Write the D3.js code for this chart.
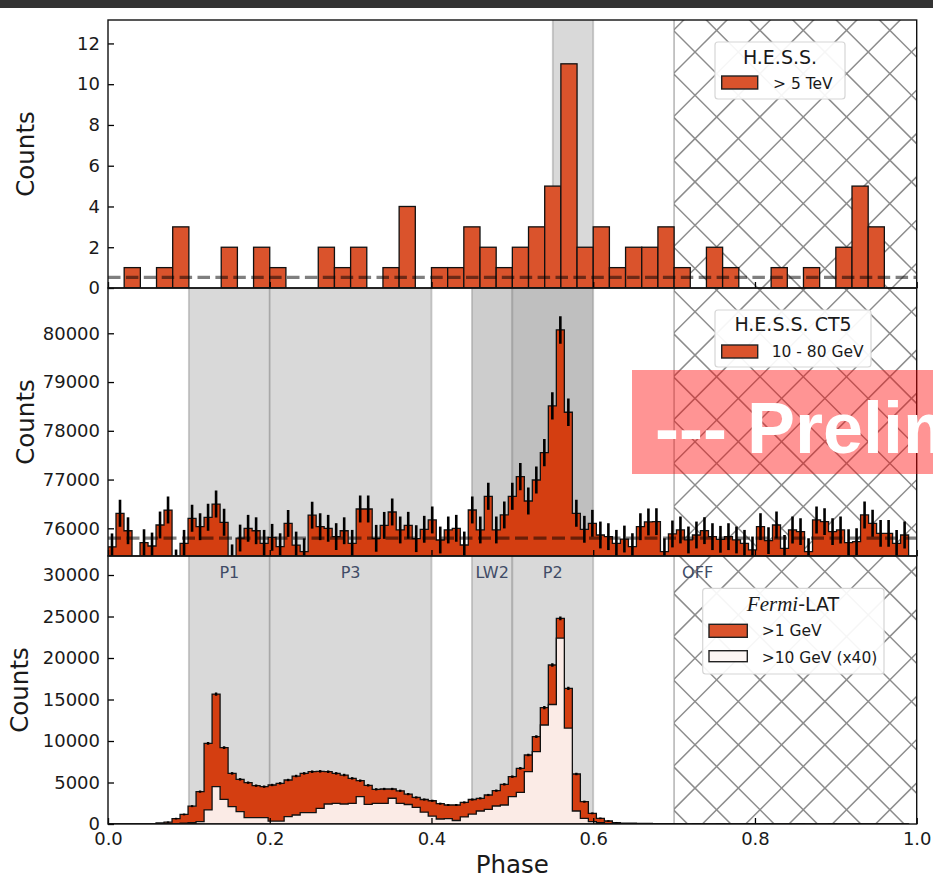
<!DOCTYPE html>
<html>
<head>
<meta charset="utf-8">
<script src="https://cdn.jsdelivr.net/npm/d3@7"></script>
<style>
  html, body { margin: 0; padding: 0; background: #fff; }
  svg { display: block; }
</style>
</head>
<body>
<svg id="chart" width="933" height="882" font-family="DejaVu Sans, sans-serif"></svg>
<script>
// ---- Phaseogram data -------------------------------------------------------
// H.E.S.S. > 5 TeV, 50 bins of 0.02 in phase
const hessCounts = [0,1,0,1,3,0,0,2,0,2, 1,0,0,2,1,2,0,1,4,0,
                    1,1,3,2,1,2,3,5,11,2, 3,1,2,2,3,1,0,2,1,0,
                    0,1,0,1,0,2,5,3,0,0];
const hessBinWidth = 0.02;
const hessBackground = 0.52;

// H.E.S.S. CT5 10 - 80 GeV, 100 bins of 0.0099 in phase
const ct5Counts = [75620,76307,75950,75150,75705,75637,76068,76375,75290,75692,
                   76205,76033,76226,76498,76123,75395,75800,76000,75950,75692,
                   75815,75623,76100,75657,75520,76270,76033,76000,75830,75950,
                   75692,76396,76396,75795,76060,76335,75966,76062,75788,75980,
                   76171,75760,75966,76000,75658,76376,75966,76656,75966,76274,
                   76656,77060,76560,76991,77552,78510,80069,78380,76308,75980,
                   76103,75863,75829,75692,75780,75624,76033,76130,76137,75520,
                   75884,75966,75761,75863,75952,75829,75774,75829,75761,75692,
                   75556,76034,75747,76068,75590,75966,75932,75521,76171,76137,
                   75932,75966,75706,75726,76274,76103,75897,75897,75692,75863];
const ct5Background = 75800;

// Fermi-LAT, same binning as CT5
const fermiAbove1GeV = [0,0,0,0,0,0,120,220,650,1150,
                        2150,3900,9720,15660,9200,6100,5380,4980,4620,4500,
                        4700,4900,5300,5780,6100,6300,6345,6300,6100,5900,
                        5500,5220,4660,4180,4220,4220,4000,3600,3200,2950,
                        2800,2450,2290,2290,2600,2950,3090,3494,4016,4779,
                        5703,6707,8313,10522,14016,19156,24779,16345,6024,2690,
                        1285,683,361,160,100,90,80,70,40,30,
                        30,30,20,30,20,20,30,20,20,30,
                        20,20,30,20,20,20,30,20,20,20,
                        30,20,20,30,20,20,20,20,20,20];
const fermiAbove10GeVx40 = [0,0,0,0,0,0,0,0,0,100,
                            160,280,1690,4500,2970,2090,1490,760,760,760,
                            350,350,880,1085,1365,1365,1890,2410,2490,2410,
                            2490,3290,2370,2490,2490,3100,2490,2350,2000,1420,
                            950,600,650,420,850,1200,1566,1767,2169,2289,
                            3293,3815,6305,8715,11928,14400,22400,11560,1566,683,
                            281,160,0,0,0,0,0,0,0,0,
                            0,0,0,0,0,0,0,0,0,0,
                            0,0,0,0,0,0,0,0,0,0,
                            0,0,0,0,0,0,0,0,0,0];
const lowEnergyBinWidth = 0.0099;

// Phase windows
const regionNames  = ["P1", "P3", "LW2", "P2"];
const regionStarts = [0.10, 0.20, 0.45, 0.50];
const regionEnds   = [0.20, 0.40, 0.50, 0.60];
const offStart = 0.7, offEnd = 1.0;
const hessWindow = [0.55, 0.60];

// Ticks
const phaseTicks = [0, 0.2, 0.4, 0.6, 0.8, 1.0];
const hessTicks  = [0, 2, 4, 6, 8, 10, 12];
const ct5Ticks   = [76000, 77000, 78000, 79000, 80000];
const fermiTicks = [0, 5000, 10000, 15000, 20000, 25000, 30000];

// ---- Layout ----------------------------------------------------------------
const svg = d3.select("#chart");
const left = 108, right = 916.7;
const panels = [
  { id: "hess",  top: 20,  bottom: 288 },
  { id: "ct5",   top: 288, bottom: 556 },
  { id: "fermi", top: 556, bottom: 824 }
];

const x = d3.scaleLinear().domain([0, 1]).range([left, right]);
const yHess  = d3.scaleLinear().domain([0, 13.15]).range([288, 20]);
const yCt5   = d3.scaleLinear().domain([75432, 80929]).range([556, 288]);
const yFermi = d3.scaleLinear().domain([0, 32290]).range([824, 556]);

const ORANGE = "#d43e11", BAR = "#da532c", PINK = "#fbebe6";
const TEXT = "#1a1a1a";

// window bar across the top of the page
svg.append("rect").attr("x", 0).attr("y", 0).attr("width", 933).attr("height", 8).attr("fill", "#333");

const defs = svg.append("defs");
panels.forEach(p => {
  defs.append("clipPath").attr("id", "clip-" + p.id)
    .append("rect").attr("x", left).attr("y", p.top)
    .attr("width", right - left).attr("height", p.bottom - p.top);
});
defs.append("clipPath").attr("id", "clip-off")
  .append("rect").attr("x", x(offStart)).attr("y", 20)
  .attr("width", x(offEnd) - x(offStart)).attr("height", 804);

// ---- Shaded phase windows ----------------------------------------------------
function windowBand(g, p, a, b, fill) {
  g.append("rect").attr("x", x(a)).attr("y", p.top)
    .attr("width", x(b) - x(a)).attr("height", p.bottom - p.top).attr("fill", fill);
  [a, b].forEach(v => g.append("line")
    .attr("x1", x(v)).attr("x2", x(v)).attr("y1", p.top).attr("y2", p.bottom)
    .attr("stroke", "#808080").attr("stroke-opacity", 0.4).attr("stroke-width", 1.8));
}
const bands = svg.append("g");
windowBand(bands, panels[0], hessWindow[0], hessWindow[1], "#d9d9d9");
const ct5Fills = ["#d9d9d9", "#d9d9d9", "#cdcdcd", "#bfbfbf"];
regionNames.forEach((n, i) => windowBand(bands, panels[1], regionStarts[i], regionEnds[i], ct5Fills[i]));
regionNames.forEach((n, i) => windowBand(bands, panels[2], regionStarts[i], regionEnds[i], "#d9d9d9"));

// ---- OFF region cross hatch --------------------------------------------------
const hatch = svg.append("g").attr("clip-path", "url(#clip-off)");
const s = 43.3, c0 = 210 % s, d0 = 1180 % s;
for (let k = -30; k < 40; k++) {
  const c = c0 + k * s, d = d0 + k * s;
  hatch.append("line").attr("x1", c).attr("y1", 0).attr("x2", c + 900).attr("y2", 900)
    .attr("stroke", "#8c8c8c").attr("stroke-width", 1.5);
  hatch.append("line").attr("x1", d).attr("y1", 0).attr("x2", d - 900).attr("y2", 900)
    .attr("stroke", "#8c8c8c").attr("stroke-width", 1.5);
}
svg.append("line").attr("x1", x(offStart)).attr("x2", x(offStart)).attr("y1", 20).attr("y2", 824)
  .attr("stroke", "#808080").attr("stroke-opacity", 0.5).attr("stroke-width", 1.8);

// ---- Step histogram helper ---------------------------------------------------
function stepPath(values, width, y, base) {
  const pts = [[x(0), y(base)]];
  values.forEach((v, i) => {
    pts.push([x(i * width), y(v)]);
    pts.push([x((i + 1) * width), y(v)]);
  });
  pts.push([x(values.length * width), y(base)]);
  return d3.line()(pts) + "Z";
}

// ---- Panel 1: H.E.S.S. > 5 TeV ---------------------------------------------
const g1 = svg.append("g").attr("clip-path", "url(#clip-hess)");
g1.selectAll("rect.bar").data(hessCounts.map((v, i) => ({ v, i })).filter(d => d.v > 0))
  .join("rect").attr("class", "bar")
  .attr("x", d => x(d.i * hessBinWidth)).attr("width", x(hessBinWidth) - x(0))
  .attr("y", d => yHess(d.v)).attr("height", d => yHess(0) - yHess(d.v))
  .attr("fill", BAR).attr("stroke", "#111").attr("stroke-width", 1.3);
g1.append("line").attr("x1", left).attr("x2", right)
  .attr("y1", yHess(hessBackground)).attr("y2", yHess(hessBackground))
  .attr("stroke", "#000").attr("stroke-opacity", 0.5).attr("stroke-width", 3.2)
  .attr("stroke-dasharray", "12.5,5.4");

// ---- Panel 2: H.E.S.S. CT5 10 - 80 GeV ---------------------------------------
const g2 = svg.append("g").attr("clip-path", "url(#clip-ct5)");
g2.append("path").attr("d", stepPath(ct5Counts, lowEnergyBinWidth, yCt5, 70000))
  .attr("fill", ORANGE).attr("stroke", "#111").attr("stroke-width", 1.3);
g2.append("line").attr("x1", left).attr("x2", right)
  .attr("y1", yCt5(ct5Background)).attr("y2", yCt5(ct5Background))
  .attr("stroke", "#000").attr("stroke-opacity", 0.5).attr("stroke-width", 3.2)
  .attr("stroke-dasharray", "13,5.5");
g2.selectAll("line.err").data(ct5Counts).join("line").attr("class", "err")
  .attr("x1", (v, i) => x((i + 0.5) * lowEnergyBinWidth)).attr("x2", (v, i) => x((i + 0.5) * lowEnergyBinWidth))
  .attr("y1", v => yCt5(v - Math.sqrt(v))).attr("y2", v => yCt5(v + Math.sqrt(v)))
  .attr("stroke", "#000").attr("stroke-width", 2.6);

// ---- Panel 3: Fermi-LAT -----------------------------------------------------
const g3 = svg.append("g").attr("clip-path", "url(#clip-fermi)");
g3.append("path").attr("d", stepPath(fermiAbove1GeV, lowEnergyBinWidth, yFermi, 0))
  .attr("fill", ORANGE).attr("stroke", "#111").attr("stroke-width", 1.3);
g3.append("path").attr("d", stepPath(fermiAbove10GeVx40, lowEnergyBinWidth, yFermi, 0))
  .attr("fill", PINK).attr("stroke", "#111").attr("stroke-width", 1.3);
g3.selectAll("line.err").data(fermiAbove1GeV.map((v, i) => ({ v, i })).filter(d => d.v > 150))
  .join("line").attr("class", "err")
  .attr("x1", d => x((d.i + 0.5) * lowEnergyBinWidth)).attr("x2", d => x((d.i + 0.5) * lowEnergyBinWidth))
  .attr("y1", d => yFermi(d.v - Math.sqrt(d.v)) + 0.6).attr("y2", d => yFermi(d.v + Math.sqrt(d.v)) - 0.6)
  .attr("stroke", "#000").attr("stroke-width", 2.4);

// window labels
const labelY = 578;
regionNames.forEach((n, i) => {
  svg.append("text").attr("x", x((regionStarts[i] + regionEnds[i]) / 2)).attr("y", labelY)
    .attr("text-anchor", "middle").attr("font-size", 16).attr("fill", "#404b66").text(n);
});
svg.append("text").attr("x", x(offStart) + 8).attr("y", labelY)
  .attr("font-size", 16).attr("fill", "#404b66").text("OFF");

// ---- Axes -------------------------------------------------------------------
function yAxis(scale, ticks) {
  const a = svg.append("g").attr("transform", `translate(${left},0)`)
    .call(d3.axisLeft(scale).tickValues(ticks).tickSizeInner(-6).tickSizeOuter(0).tickPadding(8).tickFormat(d3.format("d")));
  a.select(".domain").remove();
  a.attr("font-family", null).attr("font-size", null);
  a.selectAll("line").attr("stroke", "#000").attr("stroke-width", 1.3);
  a.selectAll("text").attr("font-size", 18).attr("fill", TEXT).attr("font-family", "DejaVu Sans");
}
yAxis(yHess, hessTicks);
yAxis(yCt5, ct5Ticks);
yAxis(yFermi, fermiTicks);

panels.forEach((p, idx) => {
  const a = svg.append("g").attr("transform", `translate(0,${p.bottom})`)
    .call(d3.axisBottom(x).tickValues(phaseTicks).tickSizeInner(-6).tickSizeOuter(0).tickPadding(8)
      .tickFormat(idx === 2 ? d3.format(".1f") : () => ""));
  a.select(".domain").remove();
  a.selectAll("line").attr("stroke", "#000").attr("stroke-width", 1.3);
  a.selectAll("text").attr("font-size", 18).attr("fill", TEXT).attr("font-family", "DejaVu Sans");
});

// frames
panels.forEach(p => {
  svg.append("rect").attr("x", left).attr("y", p.top)
    .attr("width", right - left).attr("height", p.bottom - p.top)
    .attr("fill", "none").attr("stroke", "#111").attr("stroke-width", 1.4);
});

// axis titles
[[34, 154], [34, 422], [28, 690]].forEach(([cx, cy]) => {
  svg.append("text").attr("transform", `translate(${cx},${cy}) rotate(-90)`)
    .attr("text-anchor", "middle").attr("font-size", 24.5).attr("fill", TEXT).text("Counts");
});
svg.append("text").attr("x", (left + right) / 2).attr("y", 873).attr("text-anchor", "middle")
  .attr("font-size", 24.5).attr("fill", TEXT).text("Phase");

// ---- Legends ----------------------------------------------------------------
function legendBox(bx, by, bw, bh) {
  svg.append("rect").attr("x", bx).attr("y", by).attr("width", bw).attr("height", bh)
    .attr("rx", 3).attr("fill", "#fff").attr("fill-opacity", 0.92)
    .attr("stroke", "#d6d6d6").attr("stroke-width", 1.2);
}
function patch(px, py, pw, ph, fill) {
  svg.append("rect").attr("x", px).attr("y", py).attr("width", pw).attr("height", ph)
    .attr("fill", fill).attr("stroke", "#222").attr("stroke-width", 1.4);
}
function label(tx, ty, t, size, anchor) {
  return svg.append("text").attr("x", tx).attr("y", ty).attr("font-size", size)
    .attr("text-anchor", anchor || "start").attr("fill", TEXT).text(t);
}

legendBox(715, 42, 130, 57);
label(780, 64, "H.E.S.S.", 19, "middle");
patch(721.7, 76, 36, 13, BAR);
label(773, 89, "> 5 TeV", 15.5);

legendBox(715, 310, 156, 57);
label(793, 331, "H.E.S.S. CT5", 19, "middle");
patch(721.7, 345, 36, 13, BAR);
label(771.7, 357, "10 - 80 GeV", 15.5);

legendBox(702.7, 588.3, 181.3, 85.7);
const ft = svg.append("text").attr("x", 793).attr("y", 611).attr("text-anchor", "middle")
  .attr("font-size", 19).attr("fill", TEXT);
ft.append("tspan").attr("font-family", "Liberation Serif").attr("font-style", "italic").attr("font-size", 21).text("Fermi");
ft.append("tspan").text("-LAT");
patch(709, 624.3, 38.3, 13, BAR);
label(761.7, 636, ">1 GeV", 15.5);
patch(709, 650.7, 38.3, 11, "#fdf6f4");
label(761.7, 663, ">10 GeV (x40)", 15.5);

// ---- Preliminary banner -----------------------------------------------------
svg.append("rect").attr("x", 632).attr("y", 370).attr("width", 320).attr("height", 104)
  .attr("fill", "#ff0000").attr("fill-opacity", 0.42);
svg.append("text").attr("x", 655).attr("y", 453)
  .attr("font-family", "Liberation Sans, Arial, sans-serif").attr("font-weight", "bold")
  .attr("font-size", 72).attr("fill", "#fff").text("--- Preliminary ---");
</script>
</body>
</html>
